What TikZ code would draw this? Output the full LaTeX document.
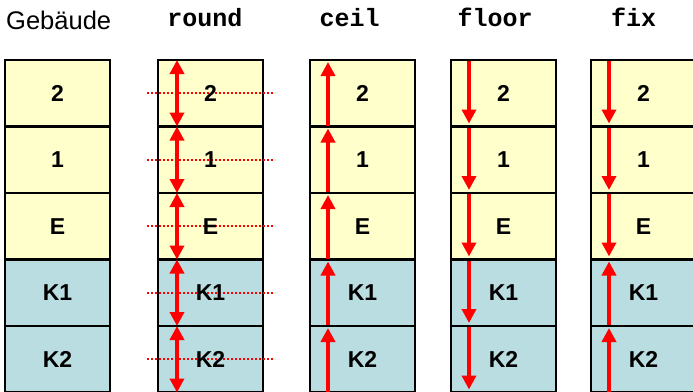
\documentclass[tikz,border=0pt]{standalone}
\usepackage{fontspec}
\setmainfont{Liberation Sans}
\newfontfamily\codefont{Liberation Mono}
\usetikzlibrary{arrows.meta}
\definecolor{storeyup}{HTML}{FFFFCC}
\definecolor{storeydown}{HTML}{B9DDE1}
\definecolor{arrowred}{HTML}{FF0000}
\pgfdeclarelayer{back}
\pgfsetlayers{back,main}
\tikzset{
  cell/.style={draw=black, line width=2.5pt, minimum width=105pt, minimum height=66.5pt,
    inner sep=0pt, outer sep=0pt},
  upper/.style={cell, fill=storeyup},
  lower/.style={cell, fill=storeydown},
  lab/.style={inner sep=0pt, font=\fontsize{23}{24}\selectfont\bfseries},
  head/.style={anchor=base west, inner sep=0pt, font=\fontsize{25.5}{28}\selectfont},
  title/.style={anchor=base, inner sep=0pt, font=\fontsize{25}{28}\selectfont\codefont\bfseries},
  move/.style={draw=arrowred, line width=4.5pt, -{Triangle[length=14pt,width=14pt]}},
  both/.style={draw=arrowred, line width=4.5pt,
    {Triangle[length=14pt,width=14pt]}-{Triangle[length=14pt,width=14pt]}},
  level/.style={draw=arrowred, line width=2.3pt, dash pattern=on 2pt off 2pt},
}
\begin{document}
\begin{tikzpicture}[x=1pt,y=-1pt]
\useasboundingbox (0,0) rectangle (693,391);
\clip (0,0) rectangle (693,391);

% column headings
\node[head] (tg) at (6,29.5) {Gebäude};
\node[title] (tr) at (205,26) {round};
\node[title] (tc) at (349.5,26) {ceil};
\node[title] (tf) at (495,26) {floor};
\node[title] (tx) at (633.5,26) {fix};

% storey cells and the rounding levels of the round column
\begin{pgfonlayer}{back}
\foreach \c/\x in {g/5,r/158,c/310,f/451,x/591}{
  \foreach \s [count=\i] in {upper,upper,upper,lower,lower}{
    \node[\s] (\c\i) at ({\x+52.5},{93.25+66.5*(\i-1)}) {};
  }
}
\foreach \i in {1,...,5}{
  \draw[level] ([xshift=-11pt]r\i.west) -- ([xshift=12pt]r\i.east);
}
\end{pgfonlayer}

% storey names
\foreach \c in {g,r,c,f,x}{
  \foreach \t [count=\i] in {2,1,E,K1,K2}{
    \node[lab] (\c\i l) at (\c\i) {\t};
  }
}

% round: both directions
\foreach \i in {1,...,5}{
  \draw[both] ([xshift=19pt]r\i.north west) -- ([xshift=19pt]r\i.south west);
}
% ceil: always up
\foreach \i in {1,...,5}{
  \draw[move] ([xshift=18pt,yshift=1pt]c\i.south west) -- ([xshift=18pt,yshift=-2pt]c\i.north west);
}
% floor: always down
\foreach \i in {1,...,5}{
  \draw[move] ([xshift=18pt,yshift=-1pt]f\i.north west) -- ([xshift=18pt,yshift=3pt]f\i.south west);
}
% fix: towards zero
\foreach \i in {1,2,3}{
  \draw[move] ([xshift=18pt,yshift=-1pt]x\i.north west) -- ([xshift=18pt,yshift=3pt]x\i.south west);
}
\foreach \i in {4,5}{
  \draw[move] ([xshift=18pt,yshift=1pt]x\i.south west) -- ([xshift=18pt,yshift=-2pt]x\i.north west);
}
\end{tikzpicture}
\end{document}
